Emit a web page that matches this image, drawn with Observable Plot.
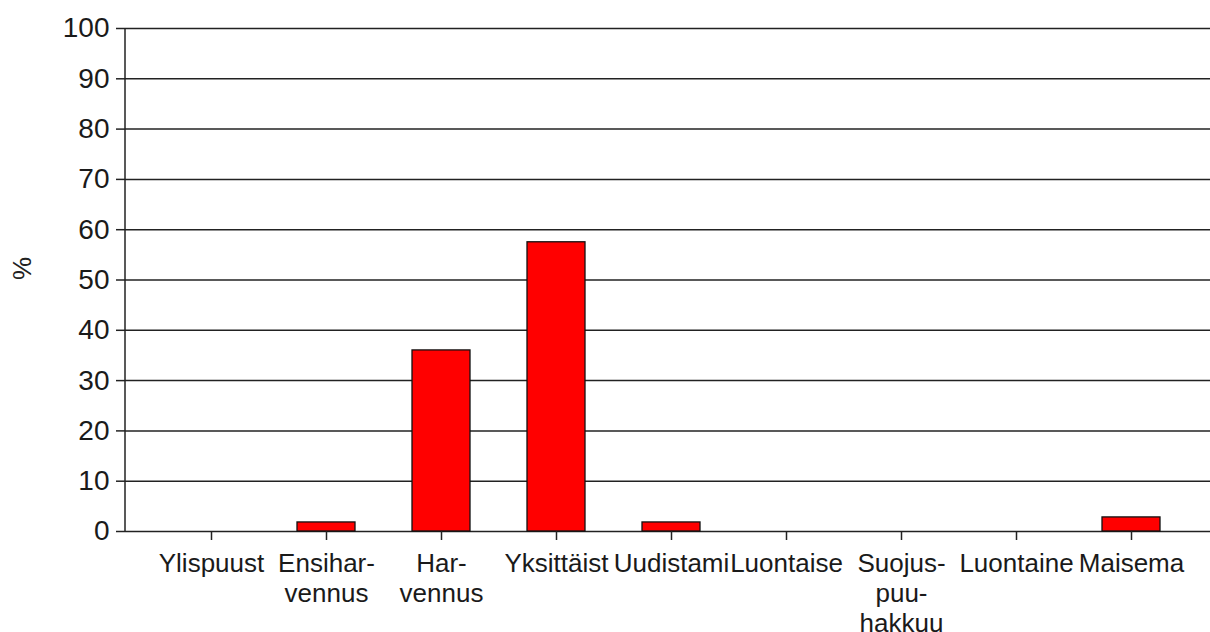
<!DOCTYPE html>
<html>
<head>
<meta charset="utf-8">
<script src="https://cdn.jsdelivr.net/npm/d3@7"></script>
<script src="https://cdn.jsdelivr.net/npm/@observablehq/plot@0.6"></script>
<style>
  html, body { margin: 0; padding: 0; background: white; }
</style>
</head>
<body>
<div id="chart"></div>
<script>
const categories = ["Ylispuust", "Ensihar-\nvennus", "Har-\nvennus", "Yksittäist", "Uudistami", "Luontaise", "Suojus-\npuu-\nhakkuu", "Luontaine", "Maisema"];
const values = [0, 1.8, 36, 57.5, 1.8, 0, 0, 0, 2.8];
const yTicks = [0, 10, 20, 30, 40, 50, 60, 70, 80, 90, 100];
const yLabel = "%";

const data = categories.map((c, i) => ({category: c, value: values[i]}));

const marginLeft = 125;
const chart = Plot.plot({
  width: 1210,
  height: 632,
  marginTop: 28,
  marginBottom: 101,
  marginLeft,
  marginRight: 0,
  style: {fontFamily: "'Liberation Sans', Arial, sans-serif", background: "white", color: "#1a1a1a"},
  x: {domain: categories, range: [152.45, 1188.35], paddingInner: 0.5, paddingOuter: 0.25},
  y: {domain: [0, 100]},
  marks: [
    Plot.ruleY(yTicks, {stroke: "#222", strokeWidth: 1.5}),
    Plot.barY(data.filter(d => d.value > 0), {x: "category", y: "value", fill: "#ff0000", stroke: "#111", strokeWidth: 1.3}),
    Plot.axisY({ticks: yTicks, tickSize: 9, tickPadding: 7, fontSize: 28, label: null, stroke: "#222", strokeWidth: 1.5}),
    Plot.axisX({tickSize: 9, tickPadding: 10, fontSize: 26, lineHeight: 1.16, label: null, stroke: "#222", strokeWidth: 1.5}),
    Plot.text([yLabel], {frameAnchor: "left", dx: -103, rotate: -90, fontSize: 26, fill: "#222"})
  ]
});

const y = chart.scale("y");
d3.select(chart).append("line")
  .attr("x1", marginLeft).attr("x2", marginLeft)
  .attr("y1", y.apply(0)).attr("y2", y.apply(100))
  .attr("stroke", "#222").attr("stroke-width", 1.5);

document.getElementById("chart").appendChild(chart);
</script>
</body>
</html>
